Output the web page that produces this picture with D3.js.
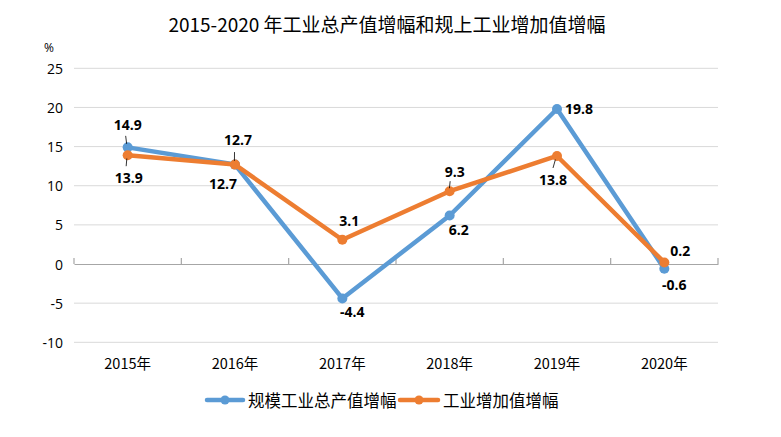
<!DOCTYPE html>
<html><head><meta charset="utf-8">
<script src="https://cdn.jsdelivr.net/npm/d3@7"></script>
<style>body{margin:0;background:#fff}svg{display:block}</style>
</head><body>
<svg id="c" width="781" height="437"></svg>
<script>
const categories = ["2015年","2016年","2017年","2018年","2019年","2020年"];
const seriesNames = ["规模工业总产值增幅","工业增加值增幅"];
const grossOutput = [14.9, 12.7, -4.4, 6.2, 19.8, -0.6];
const valueAdded = [13.9, 12.7, 3.1, 9.3, 13.8, 0.2];
const yTicks = [-10,-5,0,5,10,15,20,25];
const title = "2015-2020 年工业总产值增幅和规上工业增加值增幅";

const colors = ["#5b9bd5","#ed7d31"];
// label placement (offset from point)
const labelOff = [
  [[0,-23],[-12,19],[10,13],[9,14],[22,-1],[10,16]],
  [[1,22],[3,-25],[7,-19],[5,-20],[-4,24],[16,-12]]
];
const leaders = [[true,false,false,false,false,false],[true,true,false,true,true,false]];

const svg = d3.select("#c");
const latin = "'Open Sans','Liberation Sans',sans-serif";
const cjk = "'Noto Sans CJK SC','Open Sans',sans-serif";
const x = d3.scaleBand().domain(categories).range([74,718]);
const y = d3.scaleLinear().domain([-10,25]).range([342.3,68.3]);

svg.append("text").attr("x",387).attr("y",23).attr("text-anchor","middle")
  .attr("dominant-baseline","central").attr("font-family",cjk).attr("font-size",19)
  .attr("fill","#000").text(title);
svg.append("text").attr("x",49).attr("y",47).attr("text-anchor","middle")
  .attr("dominant-baseline","central").attr("font-family",latin).attr("font-size",12).text("%");

// grid
svg.append("g").selectAll("line").data(yTicks.filter(d=>d!==0)).join("line")
  .attr("x1",74).attr("x2",718).attr("y1",d=>y(d)).attr("y2",d=>y(d))
  .attr("stroke","#d9d9d9").attr("stroke-width",1);
// y labels
svg.append("g").selectAll("text").data(yTicks).join("text")
  .attr("x",63).attr("y",d=>y(d)).attr("text-anchor","end").attr("dominant-baseline","central")
  .attr("font-family",latin).attr("font-size",14).attr("fill","#000").text(d=>d);
// zero axis
const xAxis = d3.axisBottom(x).tickSize(0).tickFormat("");
const ax = svg.append("g").attr("transform",`translate(0,${y(0)})`).call(xAxis);
ax.select(".domain").attr("stroke","#a6a6a6").attr("stroke-width",1.2);
const bounds = categories.map(c=>x(c)).concat([x.range()[1]]);
svg.append("g").selectAll("line").data(bounds).join("line")
  .attr("x1",d=>d).attr("x2",d=>d).attr("y1",y(0)-6).attr("y2",y(0))
  .attr("stroke","#a6a6a6").attr("stroke-width",1.2);
// x labels
svg.append("g").selectAll("text").data(categories).join("text")
  .attr("x",d=>x(d)+x.bandwidth()/2).attr("y",362).attr("text-anchor","middle")
  .attr("dominant-baseline","central").attr("font-family",cjk).attr("font-size",14.5).text(d=>d);

const series = [grossOutput, valueAdded];
const cx = (i)=>x(categories[i])+x.bandwidth()/2;
const line = d3.line().x((d,i)=>cx(i)).y(d=>y(d));
series.forEach((s,k)=>{
  const g = svg.append("g");
  g.append("path").datum(s).attr("d",line).attr("fill","none").attr("stroke",colors[k])
    .attr("stroke-width",4.5).attr("stroke-linejoin","round").attr("stroke-linecap","round");
  g.selectAll("circle").data(s).join("circle").attr("cx",(d,i)=>cx(i)).attr("cy",d=>y(d))
    .attr("r",5).attr("fill",colors[k]);
});
series.forEach((s,k)=>{
  const g = svg.append("g");
  s.forEach((d,i)=>{
    const px=cx(i), py=y(d), o=labelOff[k][i];
    if(leaders[k][i]){
      g.append("line").attr("x1",px+o[0]*0.15-1).attr("y1",py+o[1]*0.15)
        .attr("x2",px+o[0]*0.5-2).attr("y2",py+o[1]*0.5)
        .attr("stroke","#000").attr("stroke-width",0.8);
    }
    g.append("text").attr("x",px+o[0]).attr("y",py+o[1]).attr("text-anchor","middle")
      .attr("dominant-baseline","central").attr("font-family",latin).attr("font-weight","bold")
      .attr("font-size",14).attr("fill","#000").text(d);
  });
});

// legend
const leg = [{x1:207,x2:243,tx:248},{x1:400,x2:438,tx:443}];
leg.forEach((l,k)=>{
  svg.append("line").attr("x1",l.x1).attr("x2",l.x2).attr("y1",400).attr("y2",400)
    .attr("stroke",colors[k]).attr("stroke-width",4.5).attr("stroke-linecap","round");
  svg.append("circle").attr("cx",(l.x1+l.x2)/2).attr("cy",400).attr("r",4.5).attr("fill",colors[k]);
  svg.append("text").attr("x",l.tx).attr("y",400).attr("dominant-baseline","central")
    .attr("font-family",cjk).attr("font-size",16.5).attr("fill","#000").text(seriesNames[k]);
});
</script>
</body></html>
